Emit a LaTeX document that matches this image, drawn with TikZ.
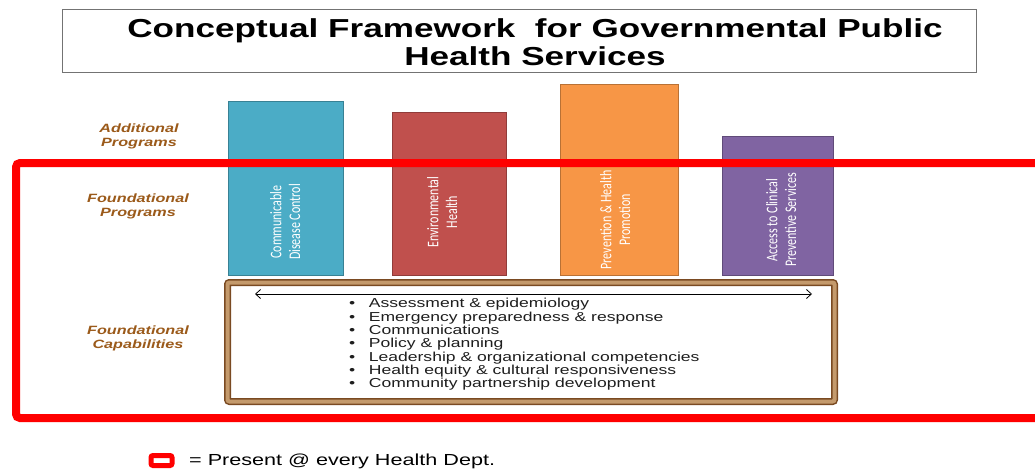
\documentclass[tikz,border=0pt]{standalone}
\usepackage{fontspec}
\setmainfont{Liberation Sans}
\newfontfamily\calibfont{Carlito}
\usepackage{graphicx}
\usetikzlibrary{arrows.meta}
\definecolor{cdblue}{HTML}{4BACC6}
\definecolor{envred}{HTML}{C0504D}
\definecolor{prevorange}{HTML}{F79646}
\definecolor{accpurple}{HTML}{8064A2}
\definecolor{labelbrown}{HTML}{9B5A1A}
\definecolor{boxbrown}{HTML}{7A4A22}
\definecolor{boxtan}{HTML}{C49A6C}
\definecolor{framered}{HTML}{FF0000}
\definecolor{bodytext}{HTML}{1E1E1E}
\newcommand{\wtxt}[1]{\scalebox{1.35}[1]{#1}}
\newcommand{\vtxt}[1]{\scalebox{1}[1.35]{#1}}
\begin{document}
\begin{tikzpicture}[x=1pt,y=-1pt,
  titlebox/.style={draw=black!55, line width=0.9pt, fill=white, inner sep=0pt},
  bar/.style={line width=0.8pt, inner sep=0pt},
  barlabel/.style={rotate=90, text=white, inner sep=0pt, font=\calibfont\fontsize{12}{14}\selectfont},
  sidelabel/.style={text=labelbrown, inner sep=0pt, font=\fontsize{12}{13.5}\selectfont\bfseries\itshape},
  redframe/.style={draw=framered, line width=8pt, rounded corners=4pt},
  capbox/.style={draw=boxbrown, double=boxtan, double distance=4pt, line width=1.5pt, fill=white, rounded corners=2pt, inner sep=0pt},
  spanarrow/.style={line width=0.8pt, {Straight Barb[length=5pt,width=9pt]}-{Straight Barb[length=5pt,width=9pt]}},
  keybox/.style={draw=framered, line width=5pt, rounded corners=2pt, fill=white, inner sep=0pt}
]
\useasboundingbox (0,0) rectangle (1035,475);
\fill[white] (0,0) rectangle (1035,475);

% title
\node[titlebox, minimum width=914pt, minimum height=63pt] (tbox) at (519,40.5) {};
\node[inner sep=0pt] (title) at (535,45.5) {\wtxt{\fontsize{26}{28}\selectfont\bfseries
  \begin{tabular}{@{}c@{}}Conceptual Framework\ \ for Governmental Public\\Health Services\end{tabular}}};

% side labels
\node[sidelabel] (addprog) at (139,137) {\wtxt{\begin{tabular}{@{}c@{}}Additional\\Programs\end{tabular}}};
\node[sidelabel] (fndprog) at (138,207) {\wtxt{\begin{tabular}{@{}c@{}}Foundational\\Programs\end{tabular}}};
\node[sidelabel] (fndcap) at (138,339) {\wtxt{\begin{tabular}{@{}c@{}}Foundational\\Capabilities\end{tabular}}};

% program bars
\node[bar, fill=cdblue, draw=cdblue!75!black, minimum width=115pt, minimum height=174pt] (cdc) at (285.5,188) {};
\node[bar, fill=envred, draw=envred!75!black, minimum width=114pt, minimum height=163pt] (env) at (449,193.5) {};
\node[bar, fill=prevorange, draw=prevorange!75!black, minimum width=118pt, minimum height=191pt] (prev) at (619,179.5) {};
\node[bar, fill=accpurple, draw=accpurple!75!black, minimum width=111pt, minimum height=139pt] (acc) at (777.5,205.5) {};

\node[barlabel] (cdctext) at (287,222) {\vtxt{\begin{tabular}{@{}c@{}}Communicable\\Disease Control\end{tabular}}};
\node[barlabel] (envtext) at (444,212) {\vtxt{\begin{tabular}{@{}c@{}}Environmental\\Health\end{tabular}}};
\node[barlabel] (prevtext) at (617,220) {\vtxt{\begin{tabular}{@{}c@{}}Prevention \& Health\\Promotion\end{tabular}}};
\node[barlabel] (acctext) at (783,220) {\vtxt{\begin{tabular}{@{}c@{}}Access to Clinical\\Preventive Services\end{tabular}}};

% red frame (open to the right)
\coordinate (rfTR) at (1050,163);
\coordinate (rfTL) at (16,163);
\coordinate (rfBL) at (16,418);
\coordinate (rfBR) at (1050,418);
\draw[redframe] (rfTR) -- (rfTL) -- (rfBL) -- (rfBR);

% capabilities box
\node[capbox, minimum width=607pt, minimum height=119pt] (cap) at (531,342) {};
\coordinate (arrL) at (255,294);
\coordinate (arrR) at (812,294);
\draw[spanarrow] (arrL) -- (arrR);
\node[anchor=west, inner sep=0pt, text=bodytext] (caplist) at (349,345) {\wtxt{\fontsize{13}{13}\selectfont
  \begin{tabular}{@{}l@{\hspace{10pt}}l@{}}
  \textbullet & Assessment \& epidemiology\\
  \textbullet & Emergency preparedness \& response\\
  \textbullet & Communications\\
  \textbullet & Policy \& planning\\
  \textbullet & Leadership \& organizational competencies\\
  \textbullet & Health equity \& cultural responsiveness\\
  \textbullet & Community partnership development
  \end{tabular}}};

% legend
\node[keybox, minimum width=21pt, minimum height=10pt] (key) at (161.5,460.5) {};
\node[anchor=west, inner sep=0pt] (keytext) at (189,461) {\wtxt{\fontsize{16}{18}\selectfont = Present @ every Health Dept.}};
\end{tikzpicture}
\end{document}
